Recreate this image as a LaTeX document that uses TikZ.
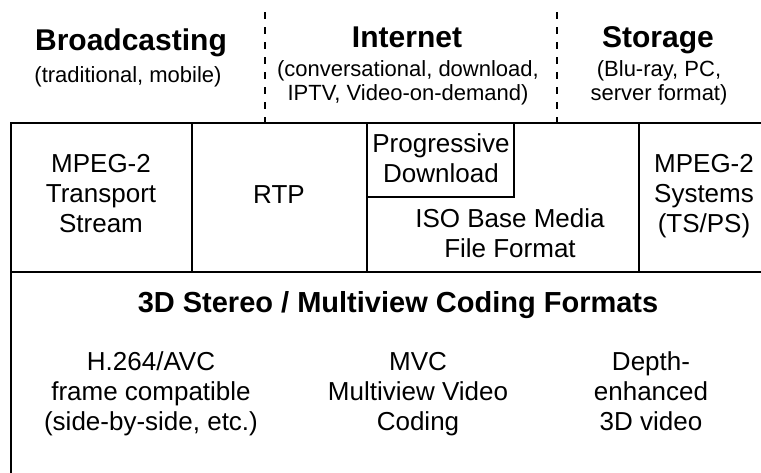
\documentclass[tikz,border=0pt]{standalone}
\usepackage{fontspec}
\setmainfont{Liberation Sans}
\begin{document}
\begin{tikzpicture}[x=1pt,y=-1pt,
  frame/.style={line width=2pt,line join=miter},
  divider/.style={line width=2pt,dash pattern=on 7pt off 8pt},
  headline/.style={anchor=base,inner sep=0pt,font=\fontsize{30}{34}\selectfont\bfseries},
  subline/.style={anchor=base,inner sep=0pt,align=center,font=\fontsize{22}{24}\selectfont},
  boxtext/.style={anchor=base,inner sep=0pt,align=center,font=\fontsize{26}{30}\selectfont},
  codingtitle/.style={anchor=base,inner sep=0pt,font=\fontsize{29}{33}\selectfont\bfseries}]
\useasboundingbox (0,0) rectangle (761,472);
\clip (0,0) rectangle (761,472);

% application domains, separated by dashed lines
\coordinate (d1top) at (265,12);
\coordinate (d1bot) at (265,123);
\coordinate (d2top) at (557,12);
\coordinate (d2bot) at (557,123);
\draw[divider] (d1top) -- (d1bot);
\draw[divider] (d2top) -- (d2bot);

% multi-line nodes are placed by the baseline of their last line
\node[headline] (bc)  at (131,50) {Broadcasting};
\node[subline]  (bcs) at (128,82) {(traditional, mobile)};
\node[headline] (in)  at (407,47) {Internet};
\node[subline]  (ins) at (408,100) {(conversational, download,\\IPTV, Video-on-demand)};
\node[headline] (st)  at (658,47) {Storage};
\node[subline]  (sts) at (659,100) {(Blu-ray, PC,\\server format)};

% transport / file format layer
\coordinate (tl) at (11,123);
\coordinate (tr) at (790,123);
\coordinate (ml) at (11,272);
\coordinate (mr) at (790,272);
\coordinate (bl) at (11,500);
\draw[frame] (tr) -- (tl) -- (bl);
\draw[frame] (ml) -- (mr);
\draw[frame] (192,123) -- (192,272);
\draw[frame] (367,123) -- (367,272);
\draw[frame] (639,123) -- (639,272);
\draw[frame] (367,197) -- (514,197) -- (514,123);

\node[boxtext] (ts)   at (101,232) {MPEG-2\\Transport\\Stream};
\node[boxtext] (rtp)  at (279,203) {RTP};
\node[boxtext] (pd)   at (441,182) {Progressive\\Download};
\node[boxtext] (iso)  at (510,257) {ISO Base Media\\File Format};
\node[boxtext] (sys)  at (704,232) {MPEG-2\\Systems\\(TS/PS)};

% coding formats layer
\node[codingtitle] (cf) at (398,312) {3D Stereo / Multiview Coding Formats};
\node[boxtext] (avc)   at (151,430) {H.264/AVC\\frame compatible\\(side-by-side, etc.)};
\node[boxtext] (mvc)   at (418,430) {MVC\\Multiview Video\\Coding};
\node[boxtext] (depth) at (651,430) {Depth-\\enhanced\\3D video};
\end{tikzpicture}
\end{document}
